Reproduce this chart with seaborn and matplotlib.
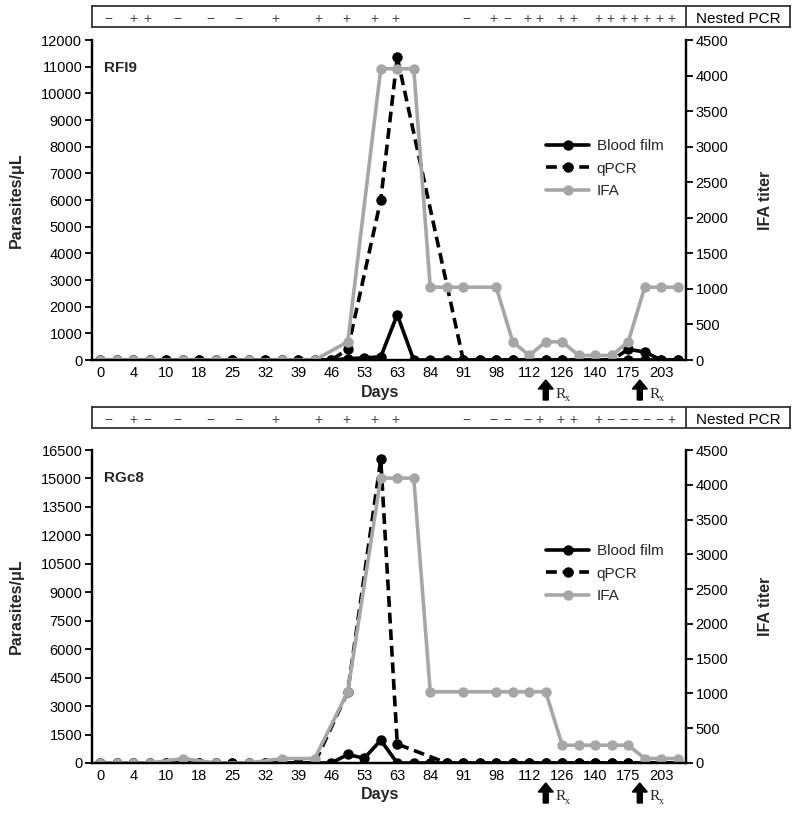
import matplotlib
matplotlib.use("Agg")

import matplotlib.pyplot as plt
import numpy as np
import pandas as pd
import seaborn as sns

nan = np.nan

# x axis: 36 sampling points, a day label on every other point
day_labels = ["0", "4", "10", "18", "25", "32", "39", "46", "53",
              "63", "84", "91", "98", "112", "126", "140", "175", "203"]
n_points = 36

# ---- RFI9 -------------------------------------------------------------
rfi9_blood = [0, 0, 0, 0, 0, 0, 0, 0, 0, 0, 0, 0, 0, 0, 0, 50, 80, 120,
              1700, 0, 0, 0, 0, 0, 0, 0, 0, 0, 0, 0, 0, 0, 0, 0, 0, 0]
rfi9_qpcr = [0, 0, 0, 0, 0, 0, 0, 0, 0, 0, 0, 0, 0, 0, 0, 400, nan, 6000,
             11350, nan, nan, nan, 0, 0, 0, 0, 0, 0, 0, 0, 0, 0, 400, 300, 0, 0]
rfi9_ifa = [0, 0, 0, 0, nan, 0, nan, 0, nan, 0, nan, 0, nan, 0, nan, 256, nan, 4096,
            4096, 4096, 1024, 1024, 1024, nan, 1024, 256, 64, 256, 256, 64, 64, 64,
            256, 1024, 1024, 1024]
rfi9_pcr = ["−", "+", "+", "−", "−", "−", "+", "+", "+", "+", "+",
            "−", "+", "−", "+", "+", "+", "+", "+", "+", "+", "+", "+", "+", "+"]
rfi9_pcr_pos = [0.5, 2.0, 2.85, 4.7, 6.7, 8.4, 10.6, 13.2, 14.9, 16.6, 17.9,
                22.2, 23.8, 24.7, 25.9, 26.6, 27.9, 28.7,
                30.2, 30.9, 31.7, 32.4, 33.1, 33.9, 34.6]

# ---- RGc8 -------------------------------------------------------------
rgc8_blood = [0, 0, 0, 0, 0, 0, 0, 0, 0, 0, 0, 0, 0, 0, 0, 450, 250, 1200,
              0, 0, 0, 0, 0, 0, 0, 0, 0, 0, 0, 0, 0, 0, 0, 0, 0, 0]
rgc8_qpcr = [0, 0, 0, 0, 0, 0, 0, 0, 0, 0, 0, 0, 0, 0, nan, 3750, nan, 16000,
             1000, nan, nan, 0, 0, 0, 0, 0, 0, 0, 0, 0, 0, 0, 0, 0, 0, 0]
rgc8_ifa = [0, 0, 0, 0, nan, 64, nan, 0, nan, 0, nan, 64, nan, 64, nan, 1024, nan, 4096,
            4096, 4096, 1024, nan, 1024, nan, 1024, 1024, 1024, 1024, 256, 256, 256, 256,
            256, 64, 64, 64]
rgc8_pcr = ["−", "+", "−", "−", "−", "−", "+", "+", "+", "+", "+",
            "−", "−", "−", "−", "+", "+", "+", "+", "−", "−", "−", "−", "−", "+"]
rgc8_pcr_pos = rfi9_pcr_pos

rx_pos = [27.0, 32.7]

W, H = 800, 815
sns.set_theme(style="white")
plt.rcParams["font.family"] = ["Liberation Sans", "DejaVu Sans"]

fig = plt.figure(figsize=(W / 100, H / 100), dpi=100)
GRAY = "#a6a6a6"


def fx(px):
    return px / W


def fy(px):
    return 1 - px / H


def panel(name, blood, qpcr, ifa, pcr, pcr_pos, ymax, ystep,
          top, bottom, strip_top, legend_top):
    ax = fig.add_axes([fx(92), fy(bottom), fx(686) - fx(92), (bottom - top) / H])
    idx = np.arange(n_points)
    series = [
        (blood, "Blood film", "black", "-", ax),
        (qpcr, "qPCR", "black", (0, (3.0, 1.6)), ax),
    ]
    ax2 = ax.twinx()
    series.append((ifa, "IFA", GRAY, "-", ax2))
    for vals, lab, col, ls, a in series:
        df = pd.DataFrame({"idx": idx, "val": vals}).dropna()
        sns.lineplot(data=df, x="idx", y="val", ax=a, color=col, linestyle=ls,
                     linewidth=2.6, marker="o", markersize=7.5, markeredgewidth=0,
                     label=lab, legend=False, errorbar=None)

    ax.set_xlim(-0.5, n_points - 0.5)
    ax.set_ylim(0, ymax)
    ax2.set_ylim(0, 4500)
    ax.set_yticks(np.arange(0, ymax + 1, ystep))
    ax2.set_yticks(np.arange(0, 4501, 500))
    ax.set_xticks(np.arange(0, n_points, 2))
    ax.set_xticklabels(day_labels)
    for a in (ax, ax2):
        a.set_xlabel("")
        a.set_ylabel("")
        a.spines["top"].set_visible(False)
        for s in ("left", "right", "bottom"):
            a.spines[s].set_color("black")
            a.spines[s].set_linewidth(1.6)
        a.tick_params(axis="y", length=5, width=1.3, color="black", pad=2,
                      labelsize=10.5, labelcolor="black")
    ax.tick_params(axis="y", left=True, right=False)
    ax2.tick_params(axis="y", right=True, left=False)
    ax.tick_params(axis="x", length=0, pad=4, labelsize=10.5, labelcolor="black")

    h1, l1 = ax.get_legend_handles_labels()
    h2, l2 = ax2.get_legend_handles_labels()
    ax2.legend(h1 + h2, l1 + l2, loc="upper left", frameon=False,
               bbox_to_anchor=(fx(540), fy(legend_top)), bbox_transform=fig.transFigure,
               fontsize=11, handlelength=2.8, labelspacing=0.55, handletextpad=0.5,
               borderaxespad=0)

    fig.text(fx(104), fy(top + 28), name, fontsize=11, fontweight="bold", va="center")
    fig.text(fx(380), fy(bottom + 32), "Days", fontsize=11.5, fontweight="bold",
             ha="center", va="center")
    mid = fy((top + bottom) / 2)
    fig.text(fx(16), mid, "Parasites/μL", fontsize=11.5, fontweight="bold",
             rotation=90, ha="center", va="center")
    fig.text(fx(766), mid, "IFA titer", fontsize=11.5, fontweight="bold",
             rotation=90, ha="center", va="center")

    # treatment arrows
    for x in rx_pos:
        xa = fig.transFigure.inverted().transform(
            ax.transData.transform((x, 0)))[0]
        fig.patches.append(matplotlib.patches.FancyArrow(
            xa, fy(bottom + 40), 0, 20 / H, width=5 / W, head_width=15 / W,
            head_length=9 / H, length_includes_head=True, color="black",
            transform=fig.transFigure, figure=fig))
        fig.text(xa + fx(10), fy(bottom + 34), "R", fontsize=11,
                 family="Liberation Serif", va="center")
        fig.text(xa + fx(19), fy(bottom + 38), "x", fontsize=7,
                 family="Liberation Serif", va="center")

    # nested PCR strip
    axs = fig.add_axes([fx(92), fy(strip_top + 21), fx(790) - fx(92), 21 / H])
    axs.set_xlim(-0.5, -0.5 + (790 - 92) / 16.5)
    axs.set_ylim(0, 1)
    axs.set_xticks([])
    axs.set_yticks([])
    for s in axs.spines.values():
        s.set_color("#333333")
        s.set_linewidth(1.3)
        s.set_visible(True)
    axs.axvline(n_points - 0.5, color="#333333", lw=1.3)
    for sgn, p in zip(pcr, pcr_pos):
        axs.text(p, 0.36, sgn, ha="center", va="center", fontsize=10, color="#444444")
    axs.text((n_points - 0.5 + axs.get_xlim()[1]) / 2, 0.4, "Nested PCR",
             ha="center", va="center", fontsize=11, color="black")


panel("RFI9", rfi9_blood, rfi9_qpcr, rfi9_ifa, rfi9_pcr, rfi9_pcr_pos,
      12000, 1000, top=40, bottom=360, strip_top=6, legend_top=133)
panel("RGc8", rgc8_blood, rgc8_qpcr, rgc8_ifa, rgc8_pcr, rgc8_pcr_pos,
      16500, 1500, top=450, bottom=763, strip_top=407, legend_top=538)

fig.savefig("out.png", dpi=100)
